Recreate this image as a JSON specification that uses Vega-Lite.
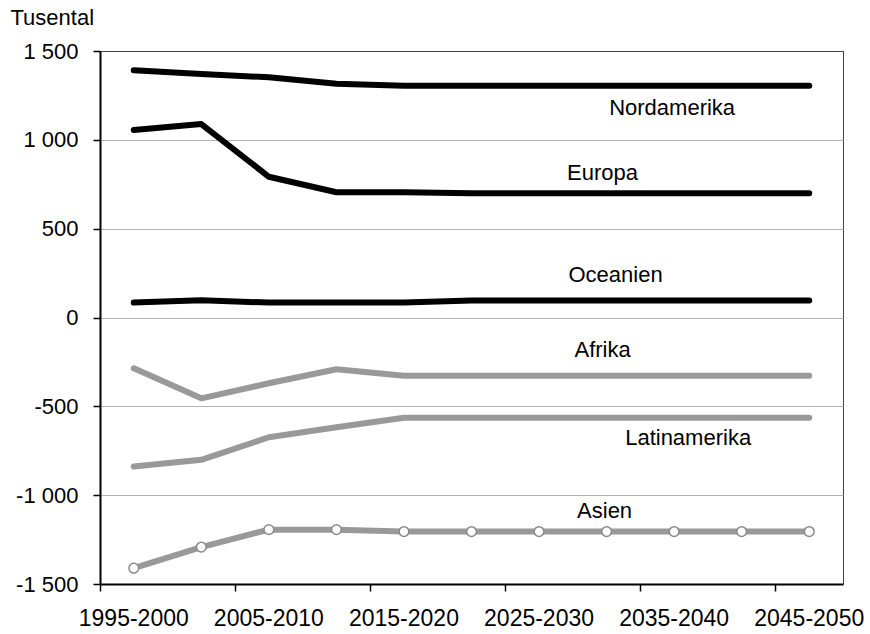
{
  "$schema": "https://vega.github.io/schema/vega-lite/v6.json",
  "width": 743,
  "height": 533,
  "autosize": "none",
  "padding": {"left": 100, "top": 51, "right": 27, "bottom": 50},
  "background": "white",
  "config": {
    "font": "Liberation Sans",
    "view": {"stroke": "#404040", "strokeWidth": 1}
  },
  "datasets": {
    "series": [
      {"region": "Nordamerika", "period": "1995-2000", "value": 1391},
      {"region": "Nordamerika", "period": "2000-2005", "value": 1370},
      {"region": "Nordamerika", "period": "2005-2010", "value": 1352},
      {"region": "Nordamerika", "period": "2010-2015", "value": 1316},
      {"region": "Nordamerika", "period": "2015-2020", "value": 1305},
      {"region": "Nordamerika", "period": "2020-2025", "value": 1305},
      {"region": "Nordamerika", "period": "2025-2030", "value": 1305},
      {"region": "Nordamerika", "period": "2030-2035", "value": 1305},
      {"region": "Nordamerika", "period": "2035-2040", "value": 1305},
      {"region": "Nordamerika", "period": "2040-2045", "value": 1305},
      {"region": "Nordamerika", "period": "2045-2050", "value": 1305},
      {"region": "Europa", "period": "1995-2000", "value": 1055},
      {"region": "Europa", "period": "2000-2005", "value": 1089},
      {"region": "Europa", "period": "2005-2010", "value": 792},
      {"region": "Europa", "period": "2010-2015", "value": 705},
      {"region": "Europa", "period": "2015-2020", "value": 705},
      {"region": "Europa", "period": "2020-2025", "value": 700},
      {"region": "Europa", "period": "2025-2030", "value": 700},
      {"region": "Europa", "period": "2030-2035", "value": 700},
      {"region": "Europa", "period": "2035-2040", "value": 700},
      {"region": "Europa", "period": "2040-2045", "value": 700},
      {"region": "Europa", "period": "2045-2050", "value": 700},
      {"region": "Oceanien", "period": "1995-2000", "value": 84},
      {"region": "Oceanien", "period": "2000-2005", "value": 97},
      {"region": "Oceanien", "period": "2005-2010", "value": 84},
      {"region": "Oceanien", "period": "2010-2015", "value": 84},
      {"region": "Oceanien", "period": "2015-2020", "value": 84},
      {"region": "Oceanien", "period": "2020-2025", "value": 96},
      {"region": "Oceanien", "period": "2025-2030", "value": 96},
      {"region": "Oceanien", "period": "2030-2035", "value": 96},
      {"region": "Oceanien", "period": "2035-2040", "value": 96},
      {"region": "Oceanien", "period": "2040-2045", "value": 96},
      {"region": "Oceanien", "period": "2045-2050", "value": 96},
      {"region": "Afrika", "period": "1995-2000", "value": -286},
      {"region": "Afrika", "period": "2000-2005", "value": -455},
      {"region": "Afrika", "period": "2005-2010", "value": -370},
      {"region": "Afrika", "period": "2010-2015", "value": -291},
      {"region": "Afrika", "period": "2015-2020", "value": -328},
      {"region": "Afrika", "period": "2020-2025", "value": -328},
      {"region": "Afrika", "period": "2025-2030", "value": -328},
      {"region": "Afrika", "period": "2030-2035", "value": -328},
      {"region": "Afrika", "period": "2035-2040", "value": -328},
      {"region": "Afrika", "period": "2040-2045", "value": -328},
      {"region": "Afrika", "period": "2045-2050", "value": -328},
      {"region": "Latinamerika", "period": "1995-2000", "value": -839},
      {"region": "Latinamerika", "period": "2000-2005", "value": -801},
      {"region": "Latinamerika", "period": "2005-2010", "value": -674},
      {"region": "Latinamerika", "period": "2010-2015", "value": -618},
      {"region": "Latinamerika", "period": "2015-2020", "value": -564},
      {"region": "Latinamerika", "period": "2020-2025", "value": -564},
      {"region": "Latinamerika", "period": "2025-2030", "value": -564},
      {"region": "Latinamerika", "period": "2030-2035", "value": -564},
      {"region": "Latinamerika", "period": "2035-2040", "value": -564},
      {"region": "Latinamerika", "period": "2040-2045", "value": -564},
      {"region": "Latinamerika", "period": "2045-2050", "value": -564},
      {"region": "Asien", "period": "1995-2000", "value": -1411},
      {"region": "Asien", "period": "2000-2005", "value": -1292},
      {"region": "Asien", "period": "2005-2010", "value": -1194},
      {"region": "Asien", "period": "2010-2015", "value": -1194},
      {"region": "Asien", "period": "2015-2020", "value": -1205},
      {"region": "Asien", "period": "2020-2025", "value": -1205},
      {"region": "Asien", "period": "2025-2030", "value": -1205},
      {"region": "Asien", "period": "2030-2035", "value": -1205},
      {"region": "Asien", "period": "2035-2040", "value": -1205},
      {"region": "Asien", "period": "2040-2045", "value": -1205},
      {"region": "Asien", "period": "2045-2050", "value": -1205}
    ],
    "labels": [
      {"label": "Nordamerika", "period": "2035-2040", "value": 1179},
      {"label": "Europa", "period": "2030-2035", "value": 813},
      {"label": "Oceanien", "period": "2030-2035", "value": 239},
      {"label": "Afrika", "period": "2030-2035", "value": -183},
      {"label": "Latinamerika", "period": "2035-2040", "value": -678},
      {"label": "Asien", "period": "2030-2035", "value": -1087}
    ]
  },
  "encoding": {
    "x": {
      "field": "period",
      "type": "nominal",
      "sort": null,
      "scale": {
        "type": "band",
        "paddingInner": 0,
        "paddingOuter": 0,
        "domain": ["1995-2000", "2000-2005", "2005-2010", "2010-2015", "2015-2020", "2020-2025", "2025-2030", "2030-2035", "2035-2040", "2040-2045", "2045-2050"]
      },
      "axis": {
        "title": null,
        "values": ["1995-2000", "2005-2010", "2015-2020", "2025-2030", "2035-2040", "2045-2050"],
        "bandPosition": 0,
        "labelAngle": 0,
        "labelFontSize": 23,
        "labelColor": "black",
        "labelPadding": 16,
        "labelOverlap": false,
        "labelFlush": false,
        "tickSize": 7,
        "tickColor": "black",
        "tickWidth": 1.5,
        "domainColor": "black",
        "domainWidth": 2,
        "grid": false
      }
    },
    "y": {
      "field": "value",
      "type": "quantitative",
      "scale": {"domain": [-1500, 1500], "nice": false, "zero": false},
      "axis": {
        "title": "Tusental",
        "titleAngle": 0,
        "titleAlign": "left",
        "titleBaseline": "alphabetic",
        "titleX": -90,
        "titleY": -27,
        "titleFontSize": 22,
        "titleFontWeight": "normal",
        "titleColor": "black",
        "values": [-1500, -1000, -500, 0, 500, 1000, 1500],
        "labelExpr": "(datum.value < 0 ? '-' : '') + replace(format(abs(datum.value), ','), ',', ' ')",
        "labelFontSize": 22,
        "labelColor": "black",
        "labelPadding": 15,
        "tickSize": 7,
        "tickColor": "black",
        "tickWidth": 1.5,
        "domainColor": "black",
        "domainWidth": 2,
        "grid": true,
        "gridColor": {"condition": {"test": "datum.value == 1500", "value": "#404040"}, "value": "#b3b3b3"},
        "gridWidth": 1
      }
    }
  },
  "layer": [
    {
      "data": {"name": "series"},
      "mark": {"type": "line", "strokeCap": "round", "strokeJoin": "round"},
      "encoding": {
        "detail": {"field": "region", "type": "nominal"},
        "color": {
          "field": "region",
          "type": "nominal",
          "scale": {
            "domain": ["Nordamerika", "Europa", "Oceanien", "Afrika", "Latinamerika", "Asien"],
            "range": ["#000000", "#000000", "#000000", "#999999", "#999999", "#999999"]
          },
          "legend": null
        },
        "strokeWidth": {
          "field": "region",
          "type": "nominal",
          "scale": {
            "domain": ["Nordamerika", "Europa", "Oceanien", "Afrika", "Latinamerika", "Asien"],
            "range": [6, 6, 6, 5, 5, 5]
          },
          "legend": null
        }
      }
    },
    {
      "data": {"name": "series"},
      "transform": [{"filter": "datum.region == 'Asien'"}],
      "mark": {"type": "point", "filled": true, "fill": "white", "stroke": "#8a8a8a", "strokeWidth": 1.5, "size": 95, "opacity": 1}
    },
    {
      "data": {"name": "labels"},
      "transform": [{"filter": "datum.label == 'Nordamerika' || datum.label == 'Asien'"}],
      "mark": {"type": "text", "fontSize": 22, "color": "black", "baseline": "middle", "align": "center", "dx": -2},
      "encoding": {"text": {"field": "label"}}
    },
    {
      "data": {"name": "labels"},
      "transform": [{"filter": "datum.label == 'Europa' || datum.label == 'Afrika'"}],
      "mark": {"type": "text", "fontSize": 22, "color": "black", "baseline": "middle", "align": "center", "dx": -4},
      "encoding": {"text": {"field": "label"}}
    },
    {
      "data": {"name": "labels"},
      "transform": [{"filter": "datum.label == 'Oceanien'"}],
      "mark": {"type": "text", "fontSize": 22, "color": "black", "baseline": "middle", "align": "center", "dx": 9},
      "encoding": {"text": {"field": "label"}}
    },
    {
      "data": {"name": "labels"},
      "transform": [{"filter": "datum.label == 'Latinamerika'"}],
      "mark": {"type": "text", "fontSize": 22, "color": "black", "baseline": "middle", "align": "center", "dx": 14},
      "encoding": {"text": {"field": "label"}}
    }
  ]
}
